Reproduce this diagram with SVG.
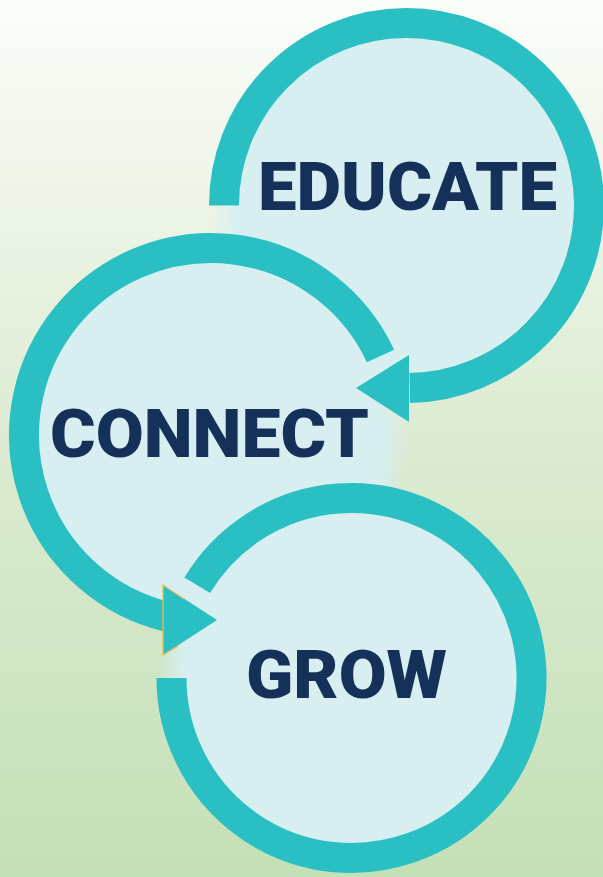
<svg xmlns="http://www.w3.org/2000/svg" width="603" height="877" viewBox="0 0 603 877">
  <defs>
    <linearGradient id="bg" x1="0" y1="0" x2="0" y2="1">
      <stop offset="0" stop-color="#fbfdf9"/>
      <stop offset="0.5" stop-color="#dcebd2"/>
      <stop offset="1" stop-color="#c4e0b6"/>
    </linearGradient>
    <radialGradient id="disc" cx="0.5" cy="0.5" r="0.5">
      <stop offset="0" stop-color="#d7eff0"/>
      <stop offset="0.87" stop-color="#d7eff0"/>
      <stop offset="1" stop-color="#d7eff0" stop-opacity="0"/>
    </radialGradient>
    <style>
      .fill { fill: url(#disc); }
      .ring { fill: none; stroke: #2abfc2; stroke-width: 30; stroke-linecap: butt; }
      .head { fill: #2abfc2; }
      .label { font-family: Roboto, "Liberation Sans", Arial, sans-serif; font-weight: 900; font-size: 67px; fill: #163159; }
      .gold { fill: none; stroke: #f0bd48; stroke-width: 1.2; stroke-linejoin: miter; }
    </style>
  </defs>

  <rect x="0" y="0" width="603" height="877" fill="url(#bg)"/>

  <g id="educate">
    <circle class="fill" cx="406.5" cy="205.5" r="196"/>
    <text class="label" x="258" y="210" textLength="299" lengthAdjust="spacingAndGlyphs">EDUCATE</text>
  </g>

  <g id="connect">
    <circle class="fill" cx="211" cy="435" r="198"/>
    <text class="label" x="50" y="457" textLength="319" lengthAdjust="spacingAndGlyphs">CONNECT</text>
  </g>

  <g id="grow">
    <circle class="fill" cx="351.5" cy="678" r="194"/>
    <text class="label" x="246" y="698" textLength="201" lengthAdjust="spacingAndGlyphs">GROW</text>
  </g>

  <g id="connectors">
    <!-- EDUCATE ring and arrow into CONNECT -->
    <path class="ring" d="M224,205.5 A182.5,182.5 0 1 1 409.7,387.97"/>
    <polygon class="head" points="409,355 409,422 356,388"/>
    <!-- CONNECT ring and arrow into GROW -->
    <path class="ring" d="M380.5,356 A187,187 0 1 0 166.7,616.7"/>
    <polygon class="head" points="163,585 163,655 217,620"/>
    <path class="gold" d="M184,599 L163,585 L163,655 L178,646"/>
    <!-- GROW ring -->
    <path class="ring" d="M171.5,678 A180,180 0 1 0 197.2,585.3"/>
  </g>
</svg>
